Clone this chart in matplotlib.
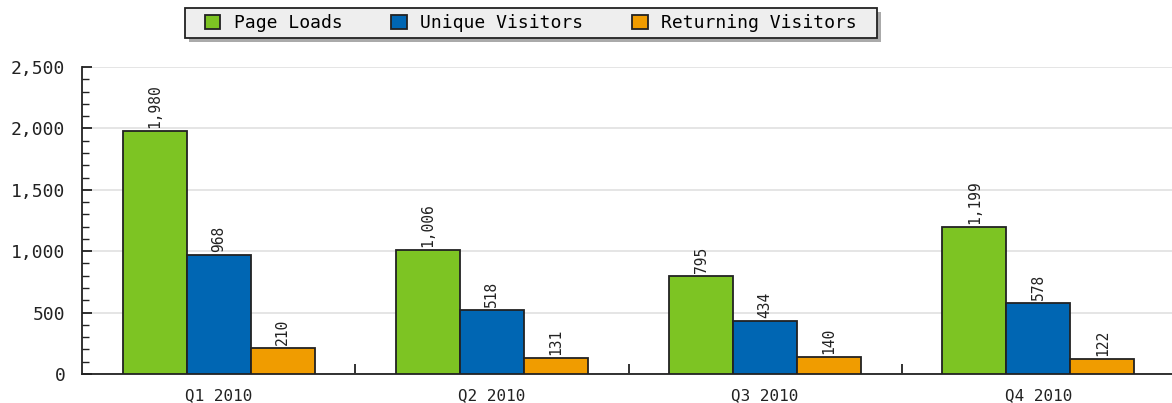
import matplotlib
matplotlib.use("Agg")
import matplotlib.pyplot as plt
from matplotlib.ticker import MultipleLocator, FuncFormatter
from matplotlib.patches import Rectangle
import numpy as np

categories = ["Q1 2010", "Q2 2010", "Q3 2010", "Q4 2010"]
series_names = ["Page Loads", "Unique Visitors", "Returning Visitors"]
page_loads = [1980, 1006, 795, 1199]
unique_visitors = [968, 518, 434, 578]
returning_visitors = [210, 131, 140, 122]
colors = ["#7dc423", "#0066b3", "#f09c00"]

plt.rcParams['font.family'] = ['DejaVu Sans Mono']
W, H = 1172, 403
fig = plt.figure(figsize=(W / 100, H / 100), dpi=100)
ax = fig.add_axes([82 / W, (H - 374) / H, (1175 - 82) / W, (374 - 67) / H])

x = np.arange(len(categories))
bw = 64 / 273
data = [page_loads, unique_visitors, returning_visitors]
for i, (vals, name, c) in enumerate(zip(data, series_names, colors)):
    bars = ax.bar(x + (i - 1) * bw, vals, width=bw, color=c, edgecolor="#222222",
                  linewidth=1.3, label=name, zorder=3)
    for b, v in zip(bars, vals):
        ax.text(b.get_x() + b.get_width() / 2, v + 25, f"{v:,}", rotation=90,
                ha="center", va="bottom", fontsize=10.5, color="#222222", zorder=4)

ax.set_xlim(-0.5, 3.5)
ax.set_ylim(0, 2500)
ax.yaxis.set_major_locator(MultipleLocator(500))
ax.yaxis.set_minor_locator(MultipleLocator(100))
ax.yaxis.set_major_formatter(FuncFormatter(lambda v, p: f"{int(v):,}"))
ax.grid(axis="y", which="major", color="#e0e0e0", linewidth=1.2, zorder=0)
ax.set_xticks(x)
ax.set_xticklabels(categories)
ax.set_xticks(np.arange(0.5, 3.5, 1.0), minor=True)
ax.tick_params(axis="x", which="major", length=0, pad=10, labelsize=11.5, colors="#222222")
ax.tick_params(axis="x", which="minor", direction="in", length=7, width=1.3, color="#222222")
ax.tick_params(axis="y", which="major", direction="in", length=7, width=1.3, labelsize=13, pad=12, colors="#222222")
ax.tick_params(axis="y", which="minor", direction="in", length=5, width=1.0, color="#222222")
for s in ["top", "right"]:
    ax.spines[s].set_visible(False)
for s in ["left", "bottom"]:
    ax.spines[s].set_linewidth(1.3)
    ax.spines[s].set_color("#222222")

# legend frame drawn manually (box with drop shadow)
bx0, bx1, by0, by1 = 185, 877, 8, 38
fig.patches.append(Rectangle(((bx0 + 4) / W, 1 - (by1 + 4) / H), (bx1 - bx0) / W, (by1 - by0) / H,
                             transform=fig.transFigure, facecolor="#aaaaaa", edgecolor="none", zorder=1))
fig.patches.append(Rectangle((bx0 / W, 1 - by1 / H), (bx1 - bx0) / W, (by1 - by0) / H,
                             transform=fig.transFigure, facecolor="#eeeeee", edgecolor="#222222",
                             linewidth=1.3, zorder=2))
leg = fig.legend(loc="center", bbox_to_anchor=((bx0 + bx1) / 2 / W, 1 - (by0 + by1) / 2 / H), ncol=3,
                 frameon=False, fontsize=13, handlelength=0.85, handleheight=0.85, columnspacing=2.7,
                 borderpad=0.3, handletextpad=0.75)
leg.set_zorder(3)

fig.savefig("out.png", dpi=100)
